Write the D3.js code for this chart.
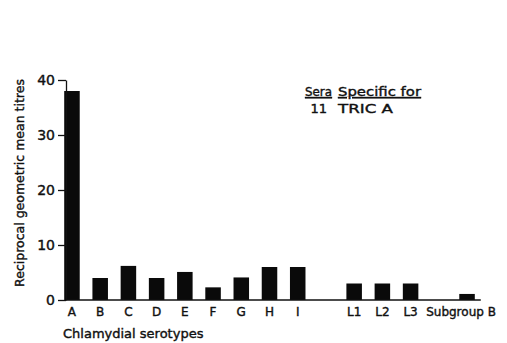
<!DOCTYPE html>
<html>
<head>
<meta charset="utf-8">
<script src="https://cdn.jsdelivr.net/npm/d3@7"></script>
<style>
  body { margin: 0; background: #fff; }
  svg text { font-family: "DejaVu Sans", sans-serif; fill: #111; stroke: #111; stroke-width: 0.4px; }
</style>
</head>
<body>
<div id="chart"></div>
<script>
// slots along the x axis; null = empty gap slot
const categories = ['A', 'B', 'C', 'D', 'E', 'F', 'G', 'H', 'I', null, 'L1', 'L2', 'L3', null, 'Subgroup B'];
const titres = [38, 4, 6.2, 4, 5.1, 2.3, 4.1, 6, 6, null, 3, 3, 3, null, 1.1];
const yTicks = [0, 10, 20, 30, 40];

const width = 507, height = 343;
const axisX = 66, baseY = 300, topY = 80;

const svg = d3.select('#chart').append('svg')
    .attr('width', width)
    .attr('height', height);

const x = d3.scaleBand()
    .domain(d3.range(categories.length))
    .range([58, 481])
    .paddingInner(0.45)
    .paddingOuter(0.22);

const y = d3.scaleLinear().domain([0, 40]).range([baseY, topY]);

// bars
svg.selectAll('.bar')
    .data(titres.map((v, i) => ({v: v, i: i})).filter(d => d.v != null))
    .enter().append('rect')
    .attr('class', 'bar')
    .attr('x', d => x(d.i))
    .attr('y', d => y(d.v))
    .attr('width', x.bandwidth())
    .attr('height', d => baseY - y(d.v))
    .attr('fill', '#0a0a0a');

// y axis
const yAxis = svg.append('g')
    .attr('transform', 'translate(' + axisX + ',0)')
    .call(d3.axisLeft(y).tickValues(yTicks).tickSize(8).tickSizeOuter(0).tickPadding(3));
yAxis.select('.domain').attr('stroke', '#111').attr('stroke-width', 1.3);
yAxis.selectAll('.tick line').attr('stroke', '#111').attr('stroke-width', 1.3);
yAxis.selectAll('.tick text')
    .style('font-size', '14px')
    .style('font-family', '"DejaVu Sans", sans-serif')
    .attr('fill', '#111');

// baseline
svg.append('line')
    .attr('x1', axisX).attr('x2', x(categories.length - 1) + x.bandwidth() + 6)
    .attr('y1', baseY).attr('y2', baseY)
    .attr('stroke', '#111').attr('stroke-width', 1.3);

// category labels
svg.selectAll('.cat')
    .data(categories.map((c, i) => ({c: c, i: i})).filter(d => d.c))
    .enter().append('text')
    .attr('class', 'cat')
    .attr('x', d => x(d.i) + x.bandwidth() / 2 - (d.c.length > 3 ? 6 : 0))
    .attr('y', 316)
    .attr('text-anchor', 'middle')
    .style('font-size', '12px')
    .text(d => d.c);

// axis titles
svg.append('text')
    .attr('transform', 'translate(24,183) rotate(-90)')
    .attr('text-anchor', 'middle')
    .style('font-size', '12.5px')
    .text('Reciprocal geometric mean titres');

svg.append('text')
    .attr('x', 63).attr('y', 338)
    .style('font-size', '13px')
    .text('Chlamydial serotypes');

// key
const key = svg.append('g').style('font-size', '13px');
key.append('text').attr('x', 305).attr('y', 96).attr('textLength', 27).attr('lengthAdjust', 'spacingAndGlyphs')
    .attr('text-decoration', 'underline').text('Sera');
key.append('text').attr('x', 338).attr('y', 96).attr('textLength', 83).attr('lengthAdjust', 'spacingAndGlyphs')
    .attr('text-decoration', 'underline').text('Specific for');
key.append('text').attr('x', 327).attr('y', 113).attr('text-anchor', 'end').text('11');
key.append('text').attr('x', 338).attr('y', 113).attr('textLength', 55).attr('lengthAdjust', 'spacingAndGlyphs').text('TRIC A');
</script>
</body>
</html>
